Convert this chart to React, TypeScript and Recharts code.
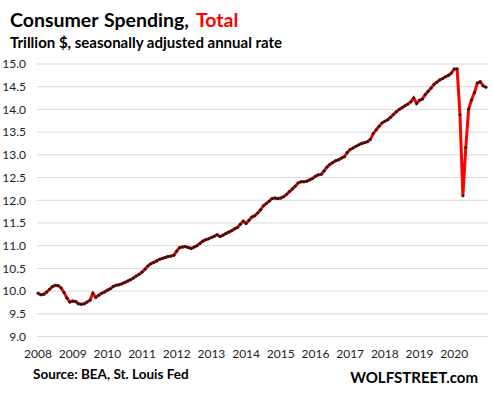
import { LineChart, Line, XAxis, YAxis, CartesianGrid } from 'recharts';

// Consumer spending, trillion $, SAAR, monthly Jan 2008 - Dec 2020
const v2008 = [9.95, 9.92, 9.93, 9.98, 10.04, 10.1, 10.13, 10.12, 10.07, 9.97, 9.85, 9.76];
const v2009 = [9.78, 9.77, 9.72, 9.71, 9.72, 9.76, 9.8, 9.95, 9.86, 9.91, 9.95, 9.98];
const v2010 = [10.02, 10.05, 10.1, 10.13, 10.14, 10.16, 10.19, 10.22, 10.25, 10.29, 10.33, 10.37];
const v2011 = [10.42, 10.48, 10.55, 10.6, 10.63, 10.66, 10.7, 10.72, 10.74, 10.76, 10.77, 10.79];
const v2012 = [10.88, 10.96, 10.97, 10.98, 10.96, 10.94, 10.97, 11.0, 11.05, 11.1, 11.13, 11.15];
const v2013 = [11.18, 11.21, 11.24, 11.2, 11.23, 11.27, 11.3, 11.33, 11.37, 11.4, 11.47, 11.54];
const v2014 = [11.49, 11.56, 11.63, 11.66, 11.72, 11.79, 11.88, 11.93, 11.98, 12.04, 12.05, 12.04];
const v2015 = [12.05, 12.08, 12.13, 12.19, 12.25, 12.31, 12.38, 12.41, 12.41, 12.42, 12.45, 12.48];
const v2016 = [12.53, 12.56, 12.57, 12.65, 12.73, 12.79, 12.83, 12.87, 12.89, 12.93, 12.96, 13.05];
const v2017 = [13.12, 13.15, 13.19, 13.22, 13.25, 13.27, 13.29, 13.34, 13.47, 13.55, 13.63, 13.7];
const v2018 = [13.74, 13.77, 13.83, 13.89, 13.95, 14.0, 14.04, 14.08, 14.12, 14.17, 14.25, 14.13];
const v2019 = [14.2, 14.23, 14.33, 14.4, 14.47, 14.55, 14.6, 14.65, 14.68, 14.72, 14.75, 14.8];
const v2020 = [14.89, 14.89, 13.88, 12.1, 13.16, 14.01, 14.21, 14.37, 14.58, 14.61, 14.52, 14.49];

const years = [2008, 2009, 2010, 2011, 2012, 2013, 2014, 2015, 2016, 2017, 2018, 2019, 2020];
const yTicks = [9, 9.5, 10, 10.5, 11, 11.5, 12, 12.5, 13, 13.5, 14, 14.5, 15];

const values = [
  ...v2008, ...v2009, ...v2010, ...v2011, ...v2012, ...v2013, ...v2014,
  ...v2015, ...v2016, ...v2017, ...v2018, ...v2019, ...v2020,
];
const data = values.map((v, i) => ({ i, v }));
const xTicks = years.map((_, k) => k * 12);

const FONT = 'Lato, "Open Sans", sans-serif';

export default function App() {
  return (
    <div style={{ position: 'absolute', left: 0, top: 0, width: 493, height: 394, background: '#fff' }}>
      <LineChart width={493} height={394} data={data} margin={{ top: 64, right: 5, left: 0, bottom: 27.5 }}>
        <CartesianGrid vertical={false} stroke="#d9d9d9" strokeWidth={1} />
        <XAxis
          dataKey="i"
          type="number"
          domain={[0, 155]}
          ticks={xTicks}
          interval={0}
          padding={{ left: 1, right: 2 }}
          tickFormatter={(i) => String(2008 + i / 12)}
          axisLine={false}
          tickLine={false}
          tickMargin={7}
          height={30}
          tick={{ fill: '#222', fontSize: 12, fontFamily: FONT }}
        />
        <YAxis
          domain={[9, 15]}
          ticks={yTicks}
          interval={0}
          tickFormatter={(v) => v.toFixed(1)}
          axisLine={false}
          tickLine={false}
          width={37}
          tickMargin={5}
          tick={{ fill: '#222', fontSize: 12, fontFamily: FONT }}
        />
        <Line
          dataKey="v"
          stroke="#ff0000"
          strokeWidth={3}
          dot={{ r: 1.5, fill: '#1a1a1a', stroke: 'none' }}
          activeDot={false}
          isAnimationActive={false}
        />
      </LineChart>
      <svg width={493} height={394} style={{ position: 'absolute', left: 0, top: 0, pointerEvents: 'none' }}>
        <text x={10} y={27} fontFamily={FONT} fontWeight="bold" fontSize={19.5} fill="#000">
          Consumer
        </text>
        <text x={104} y={27} fontFamily={FONT} fontWeight="bold" fontSize={19.5} fill="#000">
          Spending,
        </text>
        <text x={196} y={27} fontFamily={FONT} fontWeight="bold" fontSize={19.5} fill="#ff0000">
          Total
        </text>
        <text x={10} y={48} fontFamily={FONT} fontWeight="bold" fontSize={15} fill="#000">
          Trillion $, seasonally adjusted annual rate
        </text>
        <text x={33} y={379} fontFamily={FONT} fontWeight="bold" fontSize={13.5} fill="#000">
          Source: BEA, St. Louis Fed
        </text>
        <text x={478} y={383} textAnchor="end" fontFamily={FONT} fontWeight="bold" fontSize={15} fill="#000">
          WOLFSTREET.com
        </text>
      </svg>
    </div>
  );
}
